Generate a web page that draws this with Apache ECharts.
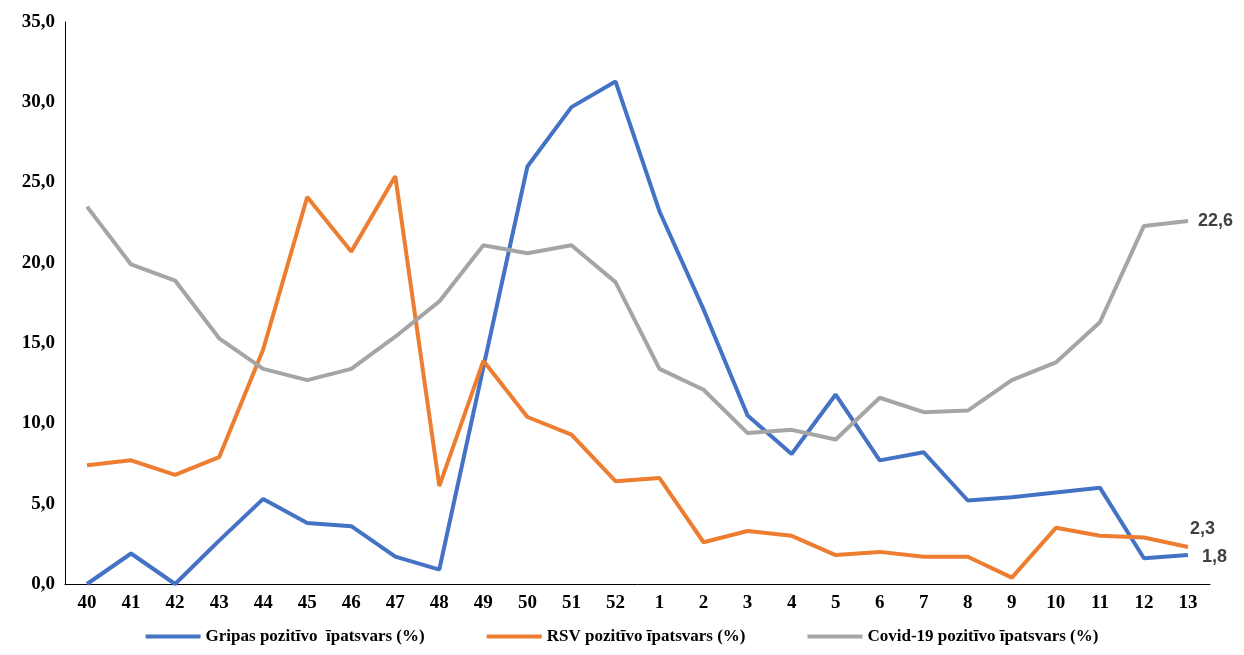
<!DOCTYPE html>
<html>
<head>
<meta charset="utf-8">
<script src="https://cdn.jsdelivr.net/npm/echarts@6/dist/echarts.min.js"></script>
<style>html,body{margin:0;padding:0;background:#fff}#chart{width:1244px;height:655px}</style>
</head>
<body>
<div id="chart"></div>
<script>
// weeks 40..52 then 1..13
const weeks = ['40','41','42','43','44','45','46','47','48','49','50','51','52','1','2','3','4','5','6','7','8','9','10','11','12','13'];
const gripas = [0, 1.9, 0, 2.7, 5.3, 3.8, 3.6, 1.7, 0.9, 13.5, 26.0, 29.7, 31.3, 23.2, 17.1, 10.5, 8.1, 11.8, 7.7, 8.2, 5.2, 5.4, 5.7, 6.0, 1.6, 1.8];
const rsv = [7.4, 7.7, 6.8, 7.9, 14.6, 24.1, 20.7, 25.4, 6.1, 13.9, 10.4, 9.3, 6.4, 6.6, 2.6, 3.3, 3.0, 1.8, 2.0, 1.7, 1.7, 0.4, 3.5, 3.0, 2.9, 2.3];
const covid = [23.5, 19.9, 18.9, 15.3, 13.4, 12.7, 13.4, 15.4, 17.6, 21.1, 20.6, 21.1, 18.8, 13.4, 12.1, 9.4, 9.6, 9.0, 11.6, 10.7, 10.8, 12.7, 13.8, 16.3, 22.3, 22.6];

const fmt = v => v.toFixed(1).replace('.', ',');

function lineSeries(name, data, color, offset) {
  return {
    name: name, type: 'line', data: data, symbol: 'none',
    lineStyle: { width: 4, color: color }, itemStyle: { color: color },
    endLabel: {
      show: true, formatter: p => fmt(p.value), offset: offset,
      fontFamily: 'Liberation Sans', fontWeight: 'bold', fontSize: 18, color: '#404040', distance: 10
    }
  };
}

const chart = echarts.init(document.getElementById('chart'));
chart.setOption({
  animation: false,
  grid: { left: 65, right: 34, top: 22, bottom: 71 },
  legend: {
    bottom: 5, left: 'center', itemGap: 62, icon: 'rect', itemWidth: 55, itemHeight: 4,
    textStyle: { fontFamily: 'Liberation Serif', fontWeight: 'bold', fontSize: 17, color: '#000' }
  },
  xAxis: {
    type: 'category', data: weeks, boundaryGap: true,
    axisLine: { lineStyle: { color: '#000' } }, axisTick: { show: false },
    axisLabel: { fontFamily: 'Liberation Serif', fontWeight: 'bold', fontSize: 19, color: '#000', margin: 10 }
  },
  yAxis: {
    type: 'value', min: 0, max: 35, interval: 5,
    splitLine: { show: false },
    axisLine: { show: true, lineStyle: { color: '#000' } }, axisTick: { show: false },
    axisLabel: { formatter: fmt, fontFamily: 'Liberation Serif', fontWeight: 'bold', fontSize: 19, color: '#000', margin: 10 }
  },
  series: [
    lineSeries('Gripas pozitīvo  īpatsvars (%)', gripas, '#4472C4', [4, 2]),
    lineSeries('RSV pozitīvo īpatsvars (%)', rsv, '#ED7D31', [-8, -18]),
    lineSeries('Covid-19 pozitīvo īpatsvars (%)', covid, '#A5A5A5', [0, 0])
  ]
});
</script>
</body>
</html>
